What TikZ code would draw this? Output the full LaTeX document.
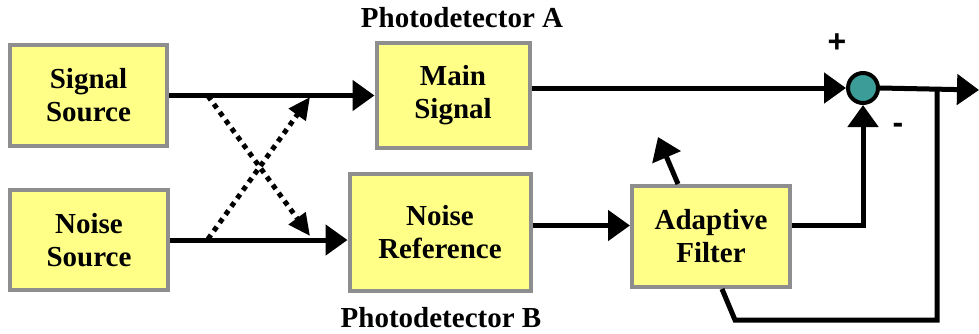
\documentclass[tikz,border=0pt]{standalone}
\usepackage{fontspec}
\setmainfont{Liberation Serif}
\setsansfont{Liberation Sans}
\usetikzlibrary{positioning, arrows.meta, calc}

\definecolor{boxfill}{HTML}{FFFF88}
\definecolor{boxline}{HTML}{8E8E8E}
\definecolor{sumfill}{HTML}{3C9C98}

\begin{document}
\begin{tikzpicture}[
  x=1pt, y=-1pt,
  font=\fontsize{29}{33}\selectfont\rmfamily\bfseries,
  block/.style  ={rectangle, draw=boxline, line width=4pt, fill=boxfill,
                  align=center, inner sep=0pt},
  summer/.style ={circle, draw=black, line width=4pt, fill=sumfill,
                  minimum size=30pt, inner sep=0pt},
  flow/.style   ={-{Triangle[length=22pt, width=30pt]}, line width=5pt},
  cross/.style  ={-{Triangle[length=22pt, width=20pt]}, line width=5pt,
                  dash pattern=on 5pt off 5pt},
  wire/.style   ={line width=5pt, line join=miter},
  sign/.style   ={font=\fontsize{32}{32}\selectfont\sffamily\bfseries}
]
\useasboundingbox (0,0) rectangle (979,333);

% ---------- Sources ----------
\node[block, minimum width=157pt, minimum height=101pt] (sigsrc)   at (88.5,95.5) {Signal\\Source};
\node[block, minimum width=158pt, minimum height=100pt] (noisesrc) at (89,240)    {Noise\\Source};

% ---------- Photodetectors ----------
\node[block, minimum width=153pt, minimum height=105pt] (mainsig)  at (453,95.5)  {Main\\Signal};
\node[block, minimum width=181pt, minimum height=117pt] (noiseref) at (440,232.5) {Noise\\Reference};
\node (pdA) at (462,18)  {Photodetector A};
\node (pdB) at (441,318) {Photodetector B};

% ---------- Filter and summer ----------
\node[block, minimum width=158pt, minimum height=101pt] (adapt) at (711,236.5) {Adaptive\\Filter};
\node[summer] (sum) at (863,88) {};
\node[sign] (plus)  at (837,43)  {+};
\node[sign] (minus) at (898,128) {-};

\coordinate (out)    at (979,90);
\coordinate (tap)    at (937,90);
\coordinate (tapbot) at (937,320);
\coordinate (fbbot)  at (735,320);
\coordinate (adjust) at (658,137);

% ---------- Crossing paths ----------
\coordinate (sA) at (208,96);
\coordinate (sB) at (208,239);
\coordinate (tA) at (310,97);
\coordinate (tB) at (310,236);

% ---------- Arrows ----------
\draw[flow] (sigsrc.east) -- (mainsig.west);
\draw[flow] (noisesrc.east) -- (noisesrc.east -| noiseref.west);
\draw[cross] (sA) -- (tB);
\draw[cross] (sB) -- (tA);

\draw[flow] ([yshift=7pt]noiseref.east) -- ([yshift=7pt]noiseref.east -| adapt.west);
\draw[flow] (mainsig.east |- sum) -- (sum.west);
\draw[flow] ([yshift=11pt]adapt.east) -| (sum.south);
\draw[flow] (sum.east) -- (out);
\draw[wire] (tap) -- (tapbot) -- (fbbot) -- ([xshift=11pt]adapt.south);
\draw[flow] ([xshift=-33pt]adapt.north) -- (adjust);

\end{tikzpicture}
\end{document}
